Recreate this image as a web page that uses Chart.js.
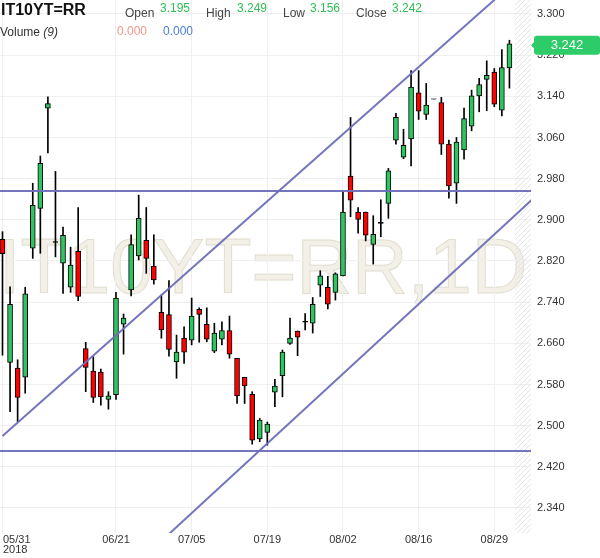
<!DOCTYPE html>
<html>
<head>
<meta charset="utf-8">
<title>IT10YT=RR</title>
<script src="https://cdn.jsdelivr.net/npm/chart.js@4.4.1/dist/chart.umd.min.js"></script>
<style>
  html, body { margin: 0; padding: 0; background: #fff; }
  #wrap { position: relative; width: 600px; height: 558px; overflow: hidden; font-family: "Liberation Sans", Arial, sans-serif; }
  #wrap canvas { position: absolute; left: 0; top: 0; z-index: 1; }
  .watermark { position: absolute; left: -1px; top: 228px; font-size: 77px; line-height: 77px;
               color: #f3f0e8; -webkit-text-stroke: 1px #e2ddcf; white-space: nowrap; z-index: 0; }
  .hdr { position: absolute; z-index: 2; white-space: nowrap; font-size: 12px; line-height: 12px; }
  .title { font-size: 16px; line-height: 16px; font-weight: bold; color: #111; }
  .lbl { color: #444; }
  .val { color: #2dbf55; }
</style>
</head>
<body>
<div id="wrap">
  <div class="watermark">IT10YT=RR,1D</div>
  <canvas id="chart" width="600" height="558"></canvas>
  <div class="hdr title" style="left:1px; top:2px;">IT10YT=RR</div>
  <div class="hdr lbl" style="left:125px; top:7px;">Open</div>
  <div class="hdr val" id="hOpen" style="left:160px; top:2px;"></div>
  <div class="hdr lbl" style="left:206px; top:7px;">High</div>
  <div class="hdr val" id="hHigh" style="left:237px; top:2px;"></div>
  <div class="hdr lbl" style="left:283px; top:7px;">Low</div>
  <div class="hdr val" id="hLow" style="left:310px; top:2px;"></div>
  <div class="hdr lbl" style="left:356px; top:7px;">Close</div>
  <div class="hdr val" id="hClose" style="left:392px; top:2px;"></div>
  <div class="hdr" style="left:0px; top:26px; color:#333;">Volume <i>(9)</i></div>
  <div class="hdr" style="left:117px; top:25px; color:#ef968b;">0.000</div>
  <div class="hdr" style="left:163px; top:25px; color:#4a7fdb;">0.000</div>
</div>
<script>
// Daily candles (index 0 = 05/31/2018)
const opens  = [2.862, 2.623, 2.612, 2.594, 2.845, 2.922, 3.117, 2.856, 2.816, 2.769,
                2.839, 2.650, 2.606, 2.604, 2.551, 2.560, 2.697, 2.764, 2.830, 2.860,
                2.810, 2.720, 2.716, 2.624, 2.670, 2.666, 2.726, 2.697, 2.645, 2.668,
                2.685, 2.631, 2.594, 2.561, 2.474, 2.487, 2.565, 2.597, 2.660, 2.684,
                2.701, 2.699, 2.773, 2.769, 2.759, 2.791, 2.985, 2.915, 2.915, 2.852,
                2.893, 2.932, 3.055, 3.022, 3.057, 3.147, 3.105, 3.134, 3.128, 3.047,
                2.971, 3.036, 3.082, 3.141, 3.173, 3.187, 3.113, 3.195];
const highs  = [2.877, 2.770, 2.628, 2.769, 2.971, 3.024, 3.139, 2.994, 2.886, 2.847,
                2.924, 2.662, 2.634, 2.610, 2.566, 2.759, 2.717, 2.871, 2.948, 2.924,
                2.871, 2.754, 2.782, 2.676, 2.692, 2.748, 2.729, 2.729, 2.699, 2.702,
                2.713, 2.631, 2.594, 2.566, 2.514, 2.507, 2.590, 2.647, 2.709, 2.684,
                2.718, 2.749, 2.801, 2.790, 2.797, 2.955, 3.099, 2.924, 2.915, 2.908,
                2.939, 3.000, 3.107, 3.076, 3.190, 3.190, 3.165, 3.134, 3.138, 3.055,
                3.060, 3.117, 3.152, 3.175, 3.209, 3.194, 3.231, 3.249];
const lows   = [2.637, 2.527, 2.508, 2.563, 2.825, 2.835, 3.030, 2.828, 2.757, 2.759,
                2.743, 2.566, 2.545, 2.540, 2.532, 2.551, 2.639, 2.752, 2.822, 2.796,
                2.775, 2.670, 2.635, 2.592, 2.621, 2.657, 2.662, 2.663, 2.642, 2.657,
                2.631, 2.543, 2.543, 2.464, 2.469, 2.462, 2.537, 2.556, 2.658, 2.636,
                2.686, 2.680, 2.751, 2.727, 2.744, 2.791, 2.906, 2.874, 2.859, 2.814,
                2.867, 2.903, 3.047, 3.019, 3.005, 3.095, 3.095, 3.134, 3.027, 2.942,
                2.932, 3.018, 3.073, 3.110, 3.112, 3.120, 3.102, 3.156];
const closes = [2.834, 2.736, 2.555, 2.756, 2.928, 3.010, 3.126, 2.856, 2.870, 2.812,
                2.751, 2.613, 2.555, 2.556, 2.558, 2.748, 2.709, 2.852, 2.903, 2.825,
                2.783, 2.686, 2.648, 2.643, 2.643, 2.713, 2.716, 2.668, 2.680, 2.685,
                2.639, 2.558, 2.577, 2.472, 2.511, 2.503, 2.577, 2.643, 2.670, 2.672,
                2.701, 2.736, 2.791, 2.736, 2.795, 2.915, 2.938, 2.901, 2.870, 2.872,
                2.893, 2.995, 3.099, 3.045, 3.158, 3.111, 3.123, 3.134, 3.047, 2.966,
                3.051, 3.097, 3.141, 3.163, 3.181, 3.125, 3.196, 3.242];

// Date axis
const xTickIdx    = [0, 15, 25, 35, 45, 55, 65];
const xTickLabels = ['05/31', '06/21', '07/05', '07/19', '08/02', '08/16', '08/29'];
const yearLabel   = '2018';

// Price axis
const yTickValues = [2.34, 2.42, 2.50, 2.58, 2.66, 2.74, 2.82, 2.90, 2.98, 3.06, 3.14, 3.22, 3.30];

// Hand-drawn trend lines, [candle index, price] end points
const channelUpper = [[0, 2.4797], [70, 3.3925]];
const channelLower = [[20, 2.2623], [70, 2.9393]];
const resistance   = [[-1, 2.956], [71, 2.956]];
const support      = [[-1, 2.4508], [71, 2.4508]];

const UP = '#2dc461';
const DOWN = '#ff0000';
const TREND = 'rgba(110, 110, 185, 0.95)';
const FONT = '"Liberation Sans", Arial, sans-serif';

const last = closes.length - 1;
const fmt = v => v.toFixed(3);
document.getElementById('hOpen').textContent = fmt(opens[last]);
document.getElementById('hHigh').textContent = fmt(highs[last]);
document.getElementById('hLow').textContent = fmt(lows[last]);
document.getElementById('hClose').textContent = fmt(closes[last]);

function candleColor(i) {
    if (highs[i] === lows[i]) return '#999';
    if (closes[i] > opens[i]) return UP;
    if (closes[i] < opens[i]) return DOWN;
    return '#000'; // doji
}

const idx = opens.map((_, i) => i);
const bodyData = idx.map(i => ({ x: i, y: [opens[i], closes[i]] }));
const wickData = idx.map(i => ({ x: i, y: [lows[i], highs[i]] }));
const toPts = arr => arr.map(p => ({ x: p[0], y: p[1] }));

function trendDataset(points) {
    return {
        type: 'line',
        data: toPts(points),
        borderColor: TREND,
        borderWidth: 2,
        pointRadius: 0,
        tension: 0,
        order: 0
    };
}

// Hatched "future" strip, date labels and the last-price tag
const overlayPlugin = {
    id: 'overlay',
    beforeDatasetsDraw(chart) {
        const { ctx, chartArea, scales } = chart;
        const start = scales.x.getPixelForValue(last) + 5.5;
        ctx.save();
        ctx.beginPath();
        ctx.rect(start, chartArea.top, chartArea.right - start, chartArea.bottom - chartArea.top);
        ctx.clip();
        ctx.strokeStyle = '#e4e4e4';
        ctx.lineWidth = 1;
        for (let y = chartArea.top - 30; y < chartArea.bottom + 30; y += 5) {
            ctx.beginPath();
            ctx.moveTo(start, y + 20);
            ctx.lineTo(start + 20, y);
            ctx.stroke();
        }
        ctx.restore();
    },
    afterDraw(chart) {
        const { ctx, chartArea, scales } = chart;
        ctx.save();
        ctx.font = '11px ' + FONT;
        ctx.fillStyle = '#333';
        ctx.textBaseline = 'alphabetic';
        xTickIdx.forEach((v, k) => {
            const px = scales.x.getPixelForValue(v);
            if (k === 0) {
                ctx.textAlign = 'left';
                ctx.fillText(xTickLabels[k], 3, chartArea.bottom + 10);
                ctx.fillText(yearLabel, 3, chartArea.bottom + 20);
            } else {
                ctx.textAlign = 'center';
                ctx.fillText(xTickLabels[k], px, chartArea.bottom + 10);
            }
        });

        const y = scales.y.getPixelForValue(closes[last]) + 1.5;
        const left = chartArea.right;
        ctx.fillStyle = '#2ecc68';
        ctx.beginPath();
        ctx.moveTo(left, y);
        ctx.lineTo(left + 4, y - 4);
        ctx.lineTo(left + 4, y + 4);
        ctx.closePath();
        ctx.fill();
        ctx.beginPath();
        ctx.roundRect(left + 3, y - 9.5, 600 - left - 3, 19, 3);
        ctx.fill();
        ctx.fillStyle = '#fff';
        ctx.font = '13px ' + FONT;
        ctx.textAlign = 'center';
        ctx.textBaseline = 'middle';
        ctx.fillText(fmt(closes[last]), left + 36, y + 0.5);
        ctx.restore();
    }
};

new Chart(document.getElementById('chart'), {
    type: 'bar',
    data: {
        datasets: [
            trendDataset(channelUpper),
            trendDataset(channelLower),
            trendDataset(resistance),
            trendDataset(support),
            {
                data: bodyData,
                backgroundColor: idx.map(candleColor),
                borderColor: idx.map(i => highs[i] === lows[i] ? '#999' : '#000'),
                borderWidth: 1,
                borderSkipped: false,
                barThickness: 5,
                minBarLength: 1,
                grouped: false,
                order: 1
            },
            {
                data: wickData,
                backgroundColor: '#000',
                borderWidth: 0,
                barThickness: 1,
                grouped: false,
                order: 2
            }
        ]
    },
    options: {
        responsive: false,
        animation: false,
        layout: { autoPadding: false, padding: { left: 0, right: 0, top: 0, bottom: 25 } },
        plugins: { legend: { display: false }, tooltip: { enabled: false } },
        scales: {
            x: {
                type: 'linear',
                min: -0.33,
                max: 69.85,
                offset: false,
                afterBuildTicks: s => { s.ticks = xTickIdx.map(v => ({ value: v })); },
                afterFit: s => { s.paddingLeft = 0; s.paddingRight = 0; },
                ticks: { display: false },
                grid: { color: '#efefef', drawTicks: false, offset: false },
                border: { display: false }
            },
            y: {
                position: 'right',
                min: 2.2914,
                max: 3.3272,
                beginAtZero: false,
                afterBuildTicks: s => { s.ticks = yTickValues.map(v => ({ value: v })); },
                afterFit: s => { s.width = 69; s.paddingTop = 0; s.paddingBottom = 0; },
                ticks: {
                    callback: v => fmt(v),
                    font: { size: 11, family: FONT },
                    color: '#333',
                    padding: 6
                },
                grid: { color: '#efefef', drawTicks: false },
                border: { display: false }
            }
        }
    },
    plugins: [overlayPlugin]
});
</script>
</body>
</html>
